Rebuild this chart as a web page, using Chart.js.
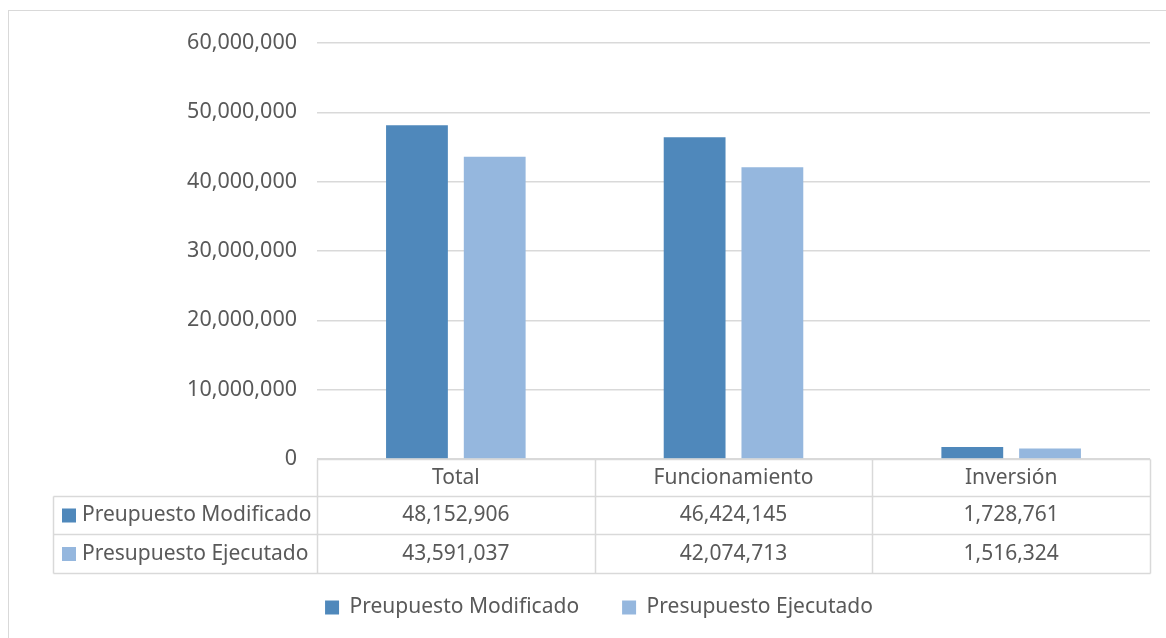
<!DOCTYPE html>
<html>
<head>
<meta charset="utf-8">
<script src="https://cdn.jsdelivr.net/npm/chart.js@4.4.1/dist/chart.umd.min.js"></script>
<style>
  html, body { margin: 0; padding: 0; background: #fff; }
  #wrap { width: 1166px; height: 638px; }
</style>
</head>
<body>
<div id="wrap"><canvas id="chartPresupuesto" width="1166" height="638"></canvas></div>
<script>
var categorias = ['Total', 'Funcionamiento', 'Inversión'];
var serieNombres = ['Preupuesto Modificado', 'Presupuesto Ejecutado'];
var modificado = [48152906, 46424145, 1728761];
var ejecutado = [43591037, 42074713, 1516324];
var ticksY = [0, 10000000, 20000000, 30000000, 40000000, 50000000, 60000000];
var colores = ['#4F88BB', '#95B7DE'];

var FONT = '"Noto Sans", sans-serif';
var GRIS = '#595959';
var LINEA = '#D9D9D9';

function fmt(n) {
    return n.toLocaleString('en-US');
}

// tabla de datos bajo el eje x, alineada con la escala de categorias
var tablaPlugin = {
    id: 'tablaDatos',
    afterInit: function (chart) {
        // leyenda mas alta de lo normal para dejar sitio a la tabla
        var lg = chart.legend;
        if (!lg) return;
        var fit = lg.fit;
        lg.fit = function () {
            fit.call(this);
            this.height = 70;
        };
    },
    beforeDraw: function (chart) {
        var ctx = chart.ctx;
        ctx.save();
        ctx.strokeStyle = LINEA;
        ctx.lineWidth = 1;
        ctx.strokeRect(8.5, 10.5, 1166, 640);
        ctx.restore();
    },
    afterDraw: function (chart) {
        var ctx = chart.ctx;
        var x = chart.scales.x;
        var area = chart.chartArea;
        var top = Math.round(area.bottom) + 0.5;
        var h = [37, 38, 39];
        var y1 = top + h[0], y2 = y1 + h[1], y3 = y2 + h[2];
        var izq = 53.5;
        var n = categorias.length;
        var paso = (area.right - area.left) / n;
        var bordes = [];
        for (var i = 0; i <= n; i++) bordes.push(Math.round(area.left + paso * i) + 0.5);

        ctx.save();
        ctx.strokeStyle = LINEA;
        ctx.lineWidth = 1.5;
        ctx.beginPath();
        ctx.moveTo(bordes[0], top); ctx.lineTo(bordes[n], top);
        ctx.moveTo(izq, y1); ctx.lineTo(bordes[n], y1);
        ctx.moveTo(izq, y2); ctx.lineTo(bordes[n], y2);
        ctx.moveTo(izq, y3); ctx.lineTo(bordes[n], y3);
        ctx.moveTo(izq, y1); ctx.lineTo(izq, y3);
        for (i = 0; i <= n; i++) {
            ctx.moveTo(bordes[i], top); ctx.lineTo(bordes[i], y3);
        }
        ctx.stroke();

        ctx.fillStyle = GRIS;
        ctx.font = '21px ' + FONT;
        ctx.textBaseline = 'middle';
        ctx.textAlign = 'center';
        for (i = 0; i < n; i++) {
            var cx = x.getPixelForValue(i);
            ctx.fillText(categorias[i], cx, (top + y1) / 2);
            ctx.fillText(fmt(modificado[i]), cx, (y1 + y2) / 2);
            ctx.fillText(fmt(ejecutado[i]), cx, (y2 + y3) / 2);
        }
        var ys = [(y1 + y2) / 2, (y2 + y3) / 2];
        for (var r = 0; r < ys.length; r++) {
            ctx.fillStyle = colores[r];
            ctx.fillRect(62, ys[r] - 7, 14, 14);
            ctx.fillStyle = GRIS;
            ctx.textAlign = 'left';
            ctx.fillText(serieNombres[r], 82, ys[r]);
        }
        ctx.restore();
    }
};

new Chart(document.getElementById('chartPresupuesto'), {
    type: 'bar',
    data: {
        labels: categorias,
        datasets: [
            { label: serieNombres[0], data: modificado, backgroundColor: colores[0], categoryPercentage: 0.56, barPercentage: 0.795 },
            { label: serieNombres[1], data: ejecutado, backgroundColor: colores[1], categoryPercentage: 0.56, barPercentage: 0.795 }
        ]
    },
    options: {
        responsive: false,
        animation: false,
        layout: { padding: { top: 43, bottom: 14, left: 48, right: 16 } },
        plugins: {
            tooltip: { enabled: false },
            legend: {
                position: 'bottom',
                labels: {
                    color: GRIS,
                    font: { family: FONT, size: 21 },
                    boxWidth: 14,
                    boxHeight: 14,
                    padding: 43
                }
            }
        },
        scales: {
            x: {
                grid: { display: false },
                border: { display: false },
                ticks: { display: false },
                afterFit: function (s) { s.height = 95; }
            },
            y: {
                min: 0,
                max: 60000000,
                afterBuildTicks: function (s) { s.ticks = ticksY.map(function (v) { return { value: v }; }); },
                afterFit: function (s) { s.width = 269; },
                grid: { color: LINEA, lineWidth: 1.5, drawTicks: false },
                border: { display: false },
                ticks: {
                    color: GRIS,
                    padding: 20,
                    font: { family: FONT, size: 21.5 },
                    callback: function (v) { return fmt(v); }
                }
            }
        }
    },
    plugins: [tablaPlugin]
});
</script>
</body>
</html>
